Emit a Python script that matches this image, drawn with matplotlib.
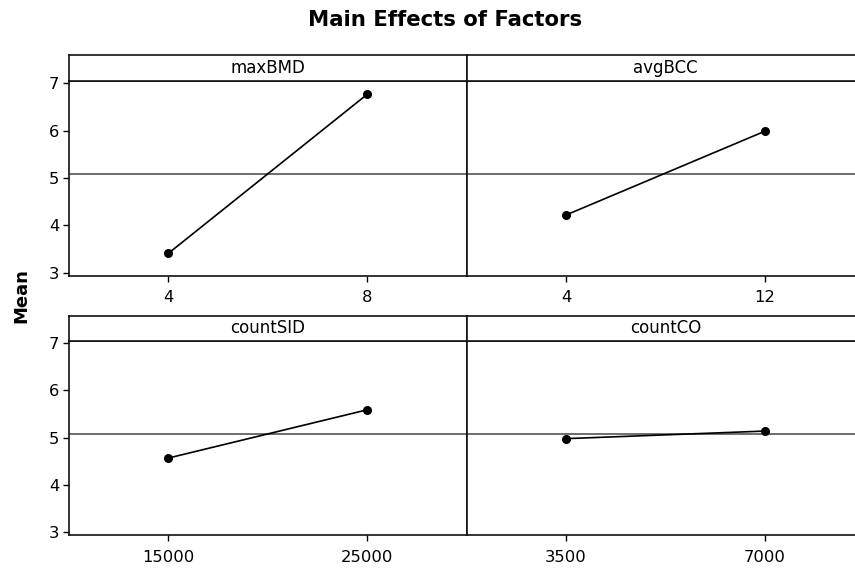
import matplotlib
matplotlib.use("Agg")
import matplotlib.pyplot as plt

factors = ["maxBMD", "avgBCC", "countSID", "countCO"]
levels = [["4", "8"], ["4", "12"], ["15000", "25000"], ["3500", "7000"]]
means = [[3.41, 6.77], [4.22, 5.99], [4.57, 5.59], [4.98, 5.14]]
grand_mean = 5.08
y_ticks = [3, 4, 5, 6, 7]

W, H = 855, 568
fig = plt.figure(figsize=(W / 100, H / 100), dpi=100)
plt.rcParams['font.family'] = ['DejaVu Sans']

col_x = [69, 466.7]
col_w = 397.7
rows = [(81, 275.7, 55), (340.7, 535.3, 315.7)]  # plot top, plot bottom, strip top

for i, fac in enumerate(factors):
    r, c = divmod(i, 2)
    top, bot, stop = rows[r]
    x0 = col_x[c]
    ax = fig.add_axes([x0 / W, (H - bot) / H, col_w / W, (bot - top) / H])
    xs = [1, 2]
    ax.axhline(grand_mean, color="#555555", lw=1.2, zorder=1)
    ax.plot(xs, means[i], color="black", lw=1.2, marker="o", ms=5.5, zorder=3)
    ax.set_xlim(0.5, 2.5)
    ax.set_ylim(2.937, 7.05)
    ax.set_xticks(xs)
    ax.set_xticklabels(levels[i], fontsize=11.8)
    ax.tick_params(axis="x", direction="out", length=4, width=1, pad=6.5)
    if c == 0:
        ax.set_yticks(y_ticks)
        ax.set_yticklabels([str(v) for v in y_ticks], fontsize=11.8)
        ax.tick_params(axis="y", direction="out", length=4, width=1, pad=3)
    else:
        ax.set_yticks([])
    for s in ax.spines.values():
        s.set_linewidth(1.2)
        s.set_color("#111111")
    # strip
    sax = fig.add_axes([x0 / W, (H - top) / H, col_w / W, (top - stop) / H])
    sax.set_xticks([])
    sax.set_yticks([])
    for s in sax.spines.values():
        s.set_linewidth(1.2)
        s.set_color("#111111")
    sax.text(0.5, 0.5, fac, ha="center", va="center", fontsize=12,
             transform=sax.transAxes)

fig.text(445 / W, 1 - 20 / H, "Main Effects of Factors", ha="center", va="center",
         fontsize=15.3, fontweight="bold")
fig.text(21 / W, 1 - 296 / H, "Mean", ha="center", va="center", rotation=90,
         fontsize=13, fontweight="bold")

fig.savefig("out.png", dpi=100, facecolor="white")
